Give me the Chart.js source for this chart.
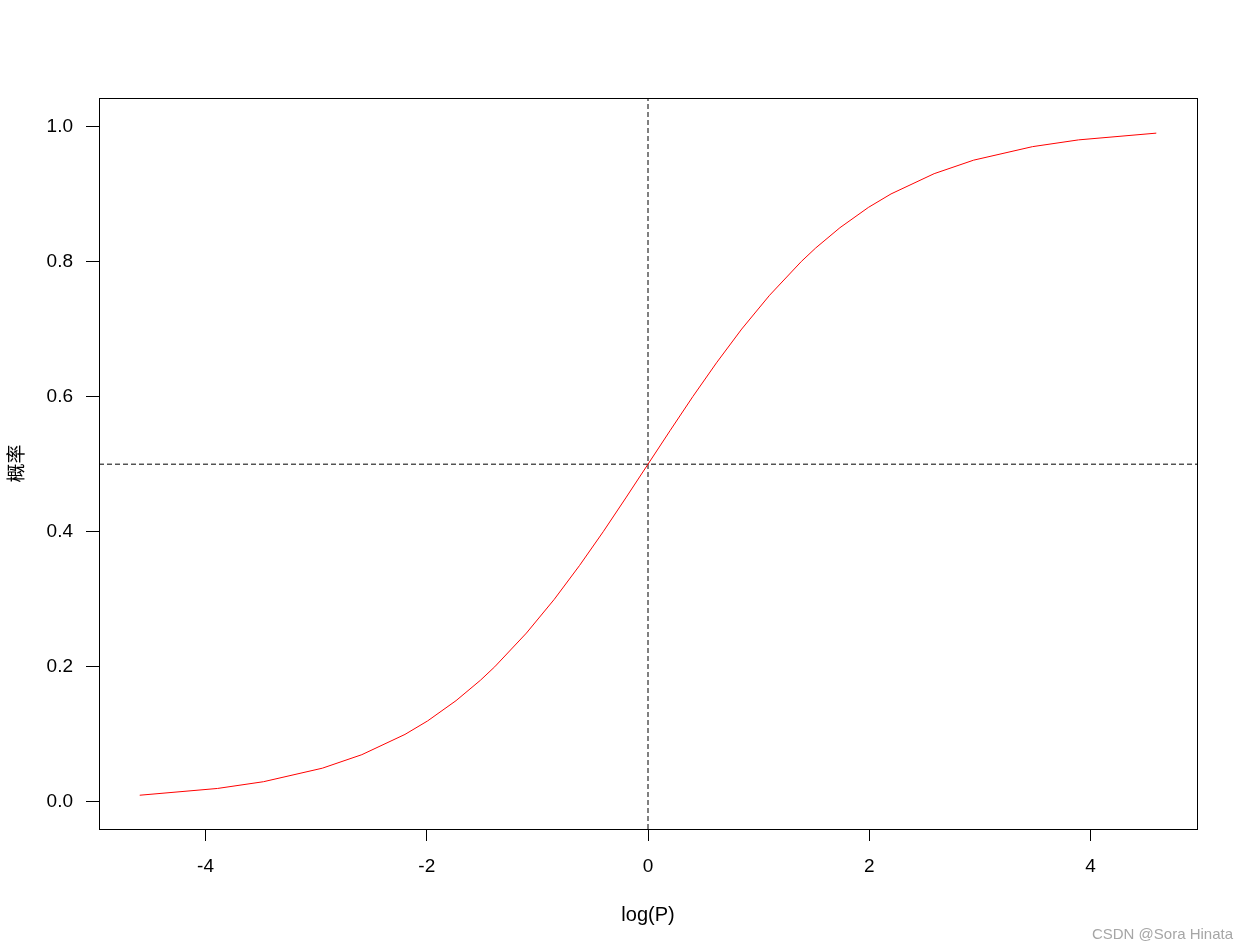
<!DOCTYPE html>
<html>
<head>
<meta charset="utf-8">
<script src="https://cdn.jsdelivr.net/npm/chart.js@4"></script>
<style>
  body { margin: 0; background: #fff; }
</style>
</head>
<body>
<canvas id="logit_chart" width="1248" height="952"></canvas>
<script>
// curve data: log(P) on x, probability on y
const logP = [-4.595, -3.892, -3.476, -2.944, -2.587, -2.197, -1.992, -1.735, -1.516, -1.386, -1.099, -0.847, -0.619, -0.405, -0.201, 0,
    0.201, 0.405, 0.619, 0.847, 1.099, 1.386, 1.516, 1.735, 1.992, 2.197, 2.587, 2.944, 3.476, 3.892, 4.595];
const prob = [0.01, 0.02, 0.03, 0.05, 0.07, 0.10, 0.12, 0.15, 0.18, 0.20, 0.25, 0.30, 0.35, 0.40, 0.45, 0.50,
    0.55, 0.60, 0.65, 0.70, 0.75, 0.80, 0.82, 0.85, 0.88, 0.90, 0.93, 0.95, 0.97, 0.98, 0.99];

// tick labels
const xTicks = [-4, -2, 0, 2, 4];
const yTicks = [0.0, 0.2, 0.4, 0.6, 0.8, 1.0];

// reference lines (abline v=0, h=0.5)
const refX = 0;
const refY = 0.5;

// axis limits
const xLim = [-4.963, 4.963];
const yLim = [-0.04, 1.042];

const axisFont = { family: '"Liberation Sans", Arial, sans-serif', size: 19 };

// box round the plot + watermark
const framePlugin = {
    id: 'frame',
    afterDraw(chart) {
        const c = chart.ctx;
        const a = chart.chartArea;
        c.save();
        c.strokeStyle = '#000';
        c.lineWidth = 1;
        c.strokeRect(Math.round(a.left) + 0.5, Math.round(a.top) + 0.5,
            Math.round(a.right - a.left), Math.round(a.bottom - a.top));
        c.font = '15px "Liberation Sans", Arial, sans-serif';
        c.fillStyle = '#a6a6a6';
        c.textAlign = 'right';
        c.textBaseline = 'alphabetic';
        c.fillText('CSDN @Sora Hinata', 1233, 939);
        c.restore();
    }
};

let ctx = document.getElementById('logit_chart').getContext('2d');
const logitChart = new Chart(ctx, {
    type: 'scatter',
    data: {
        datasets: [{
            data: logP.map((x, i) => ({ x: x, y: prob[i] })),
            showLine: true,
            borderColor: '#ff0000',
            borderWidth: 1,
            pointRadius: 0,
            tension: 0
        }, {
            data: [{ x: refX, y: yLim[0] }, { x: refX, y: yLim[1] }],
            showLine: true,
            borderColor: '#000',
            borderWidth: 1,
            borderDash: [5, 3],
            pointRadius: 0
        }, {
            data: [{ x: xLim[0], y: refY }, { x: xLim[1], y: refY }],
            showLine: true,
            borderColor: '#000',
            borderWidth: 1,
            borderDash: [5, 3],
            pointRadius: 0
        }]
    },
    options: {
        responsive: false,
        animation: false,
        layout: { padding: { left: 0, top: 98, right: 51, bottom: 0 } },
        plugins: {
            legend: { display: false },
            tooltip: { enabled: false }
        },
        scales: {
            x: {
                type: 'linear',
                min: xLim[0],
                max: xLim[1],
                afterBuildTicks: (scale) => { scale.ticks = xTicks.map(v => ({ value: v })); },
                afterFit: (scale) => { scale.height = 123; },
                border: { display: false },
                grid: { drawOnChartArea: false, drawTicks: true, tickLength: 12, color: '#000', lineWidth: 1 },
                ticks: { color: '#000', font: axisFont, padding: 14, maxRotation: 0, callback: (v) => String(v) },
                title: {
                    display: true,
                    text: 'log(P)',
                    color: '#000',
                    font: { family: '"Liberation Sans", Arial, sans-serif', size: 20 },
                    padding: { top: 0, bottom: 25 }
                }
            },
            y: {
                type: 'linear',
                min: yLim[0],
                max: yLim[1],
                afterBuildTicks: (scale) => { scale.ticks = yTicks.map(v => ({ value: v })); },
                afterFit: (scale) => { scale.width = 99; },
                border: { display: false },
                grid: { drawOnChartArea: false, drawTicks: true, tickLength: 13, color: '#000', lineWidth: 1 },
                ticks: { color: '#000', font: axisFont, padding: 13, callback: (v) => v.toFixed(1) },
                title: {
                    display: true,
                    text: '概率',
                    color: '#000',
                    font: { family: '"Noto Sans CJK SC", sans-serif', size: 19 },
                    padding: { top: 4, bottom: 0 }
                }
            }
        }
    },
    plugins: [framePlugin]
});
</script>
</body>
</html>
